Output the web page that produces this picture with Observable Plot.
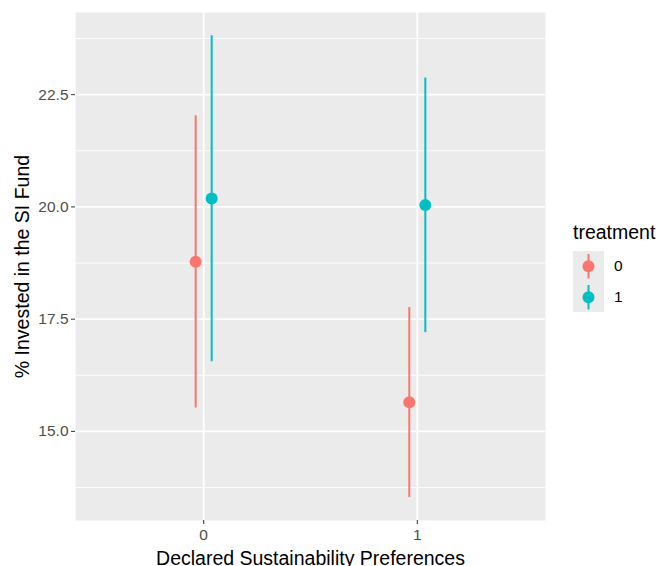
<!DOCTYPE html>
<html>
<head>
<meta charset="utf-8">
<script src="https://cdn.jsdelivr.net/npm/d3@7"></script>
<script src="https://cdn.jsdelivr.net/npm/@observablehq/plot@0.6"></script>
<style>
  html, body { margin: 0; padding: 0; background: white; }
  #wrap { position: relative; width: 659px; height: 566px; overflow: hidden; font-family: "Liberation Sans", Arial, Helvetica, sans-serif; }
  #wrap svg [aria-label="y-axis label"] text, #wrap svg [aria-label="y-axis label"],
  #wrap svg [aria-label="x-axis label"] text, #wrap svg [aria-label="x-axis label"] { fill: #000; font-size: 19.5px; }
  #legend { position: absolute; left: 573px; top: 222px; color: #000; }
  #legend .title { font-size: 19.5px; line-height: 20px; margin-bottom: 9px; }
  #legend .row { display: flex; align-items: center; height: 30.5px; }
  #legend .key { width: 31px; height: 30.5px; background: #EBEBEB; }
  #legend .lab { font-size: 15.5px; margin-left: 10px; color: #000; }
</style>
</head>
<body>
<div id="wrap"></div>
<script>
// ---- data ----
const declared = [0, 1];
const treatments = ["0", "1"];
const groupPref = [0, 0, 1, 1];
const groupTreat = ["0", "1", "0", "1"];
const estimate = [18.78, 20.19, 15.65, 20.04];
const lower = [15.52, 16.55, 13.53, 17.20];
const upper = [22.03, 23.81, 17.76, 22.87];
const yTicks = [15, 17.5, 20, 22.5];
const yMinor = [13.75, 16.25, 18.75, 21.25, 23.75];
const xTickLabels = ["0", "1"];
const colors = ["#F8766D", "#00BFC4"];
const dodgeWidth = 0.075;

const rows = estimate.map((e, i) => ({
  pref: groupPref[i],
  treatment: groupTreat[i],
  est: e,
  lo: lower[i],
  hi: upper[i],
  xpos: groupPref[i] + (treatments.indexOf(groupTreat[i]) - 0.5) * dodgeWidth
}));

const chart = Plot.plot({
  width: 659,
  height: 566,
  marginLeft: 75,
  marginRight: 114,
  marginTop: 12,
  marginBottom: 46,
  style: { fontFamily: "'Liberation Sans', Arial, Helvetica, sans-serif", fontSize: "15.5px", background: "white", color: "#4D4D4D" },
  x: { domain: [-0.6, 1.6] },
  y: { domain: [13.016, 24.33] },
  color: { type: "ordinal", domain: treatments, range: colors },
  marks: [
    Plot.frame({ fill: "#EBEBEB", stroke: null }),
    Plot.ruleY(yMinor, { stroke: "white", strokeWidth: 0.9 }),
    Plot.ruleY(yTicks, { stroke: "white", strokeWidth: 1.8 }),
    Plot.ruleX(declared, { stroke: "white", strokeWidth: 1.8 }),
    Plot.axisY(yTicks, {
      tickFormat: d => d.toFixed(1), tickSize: 4, tickPadding: 3,
      fontSize: 15.5, stroke: "#333333",
      label: "% Invested in the SI Fund", labelAnchor: "center", labelOffset: 60, labelArrow: "none"
    }),
    Plot.axisX(declared, {
      tickFormat: (d, i) => xTickLabels[declared.indexOf(d)], tickSize: 4, tickPadding: 4,
      fontSize: 15.5, stroke: "#333333",
      label: "Declared Sustainability Preferences", labelAnchor: "center", labelOffset: 44, labelArrow: "none"
    }),
    Plot.ruleX(rows, { x: "xpos", y1: "lo", y2: "hi", stroke: "treatment", strokeWidth: 2 }),
    Plot.dot(rows, { x: "xpos", y: "est", fill: "treatment", r: 6, stroke: null })
  ]
});

const wrap = document.getElementById("wrap");
wrap.appendChild(chart);

// ---- legend ----
const legend = d3.select(wrap).append("div").attr("id", "legend");
legend.append("div").attr("class", "title").text("treatment");
treatments.forEach((t, i) => {
  const row = legend.append("div").attr("class", "row");
  const key = row.append("div").attr("class", "key");
  const s = key.append("svg").attr("width", 31).attr("height", 30.5);
  s.append("line").attr("x1", 15.5).attr("x2", 15.5).attr("y1", 3).attr("y2", 27.5)
    .attr("stroke", colors[i]).attr("stroke-width", 2);
  s.append("circle").attr("cx", 15.5).attr("cy", 15.25).attr("r", 6).attr("fill", colors[i]);
  row.append("div").attr("class", "lab").text(t);
});
</script>
</body>
</html>
